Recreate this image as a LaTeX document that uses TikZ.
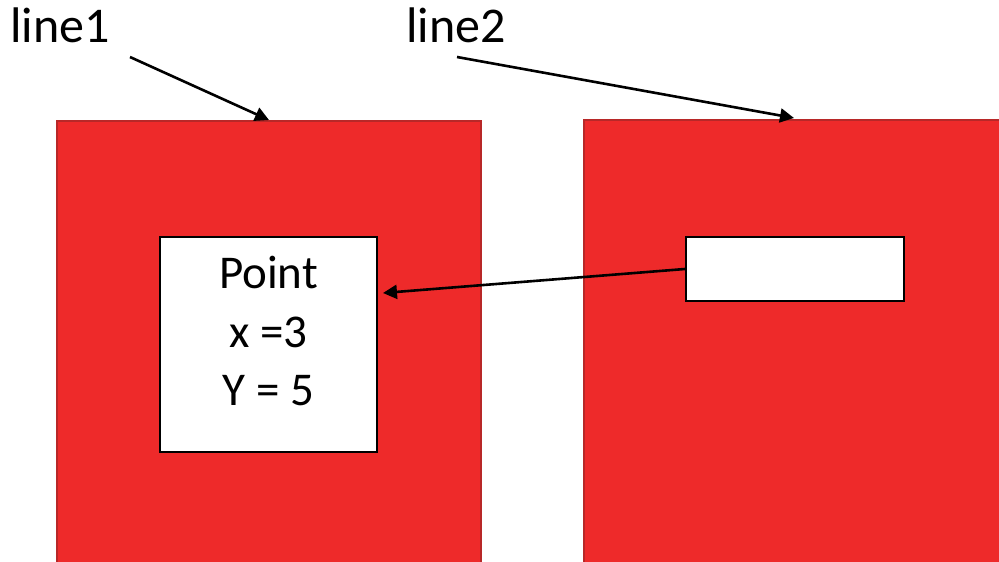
\documentclass[tikz,border=0pt]{standalone}
\usepackage{fontspec}
\setmainfont{Carlito}
\usetikzlibrary{arrows.meta}
\definecolor{boxred}{HTML}{EE2A2A}
\definecolor{edgered}{HTML}{B82828}
\begin{document}
\begin{tikzpicture}[x=1pt,y=-1pt,
  redbox/.style={draw=edgered,line width=1.5pt,fill=boxred,inner sep=0pt,anchor=north west},
  whitebox/.style={draw=black,line width=2.2pt,fill=white,inner sep=0pt},
  lbl/.style={font=\fontsize{50}{60}\selectfont,inner sep=0pt},
  ptxt/.style={font=\fontsize{47}{58}\selectfont,inner sep=0pt,anchor=base},
  arr/.style={draw=black,line width=2.6pt,-{Triangle[length=14pt,width=14pt]}}]
\useasboundingbox (0,0) rectangle (999,562);
\clip (0,0) rectangle (999,562);
\node[redbox,minimum width=424pt,minimum height=480pt] (L) at (56,120) {};
\node[redbox,minimum width=440pt,minimum height=480pt] (R) at (583,119) {};
\node[whitebox,minimum width=217pt,minimum height=215pt] (P) at (268.5,344.5) {};
\node[ptxt] (p1) at (268.5,288) {Point};
\node[ptxt] (p2) at (268.5,347) {x =3};
\node[ptxt] (p3) at (268.5,405) {Y = 5};
\node[whitebox,minimum width=218pt,minimum height=64pt] (B) at (795,269) {};
\node[lbl,anchor=base] (l1) at (60,42) {line1};
\node[lbl,anchor=base] (l2) at (456,42) {line2};
\coordinate (s1) at (130,57);
\coordinate (t1) at (269,120);
\coordinate (s2) at (457,57);
\coordinate (t2) at (794,118);
\coordinate (tP) at (383,293);
\draw[arr] (s1) -- (t1);
\draw[arr] (s2) -- (t2);
\draw[arr] (B.west) -- (tP);
\end{tikzpicture}
\end{document}
